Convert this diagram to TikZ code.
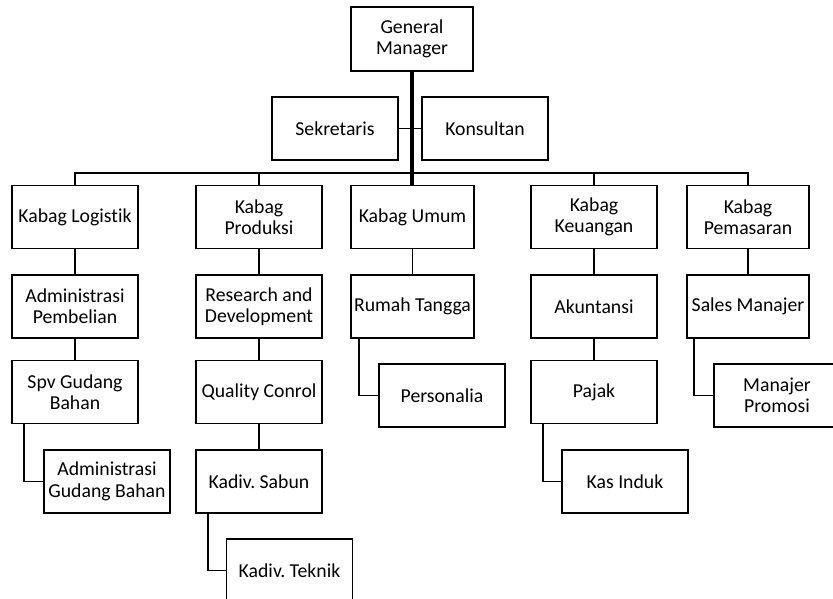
\documentclass[tikz,border=0pt]{standalone}
\usepackage{fontspec}
\setmainfont{Carlito}[RawFeature={-liga;-clig;-calt;-dlig}]
\frenchspacing
\begin{document}
\begin{tikzpicture}[x=0.75pt,y=-0.75pt,
  box/.style={draw,line width=1.2pt,minimum width=94.5pt,minimum height=47.25pt,inner sep=0pt,align=center,font=\fontsize{14.8}{16}\selectfont},
  conn/.style={line width=1.2pt},
  trunk/.style={line width=2.3pt}]
\clip (0,0) rectangle (833,599);
\fill[white] (0,0) rectangle (833,599);
% top
\node[box,minimum width=91.5pt,minimum height=48pt] (GM) at (412,39) {General\\Manager};
\node[box] (SK) at (335,128.5) {Sekretaris};
\node[box] (KS) at (485,128.5) {Konsultan};
% level 1
\node[box] (KL) at (75,217) {Kabag Logistik};
\node[box] (KP) at (259,217) {Kabag\\Produksi};
\node[box,minimum width=92.25pt] (KU) at (412.5,217) {Kabag Umum};
\node[box] (KK) at (594,217) {Kabag\\Keuangan};
\node[box,minimum width=91.5pt] (KM) at (748,217) {Kabag\\Pemasaran};
% level 2
\node[box] (AP) at (75,306.5) {Administrasi\\Pembelian};
\node[box] (RD) at (259,306.5) {Research and\\Development};
\node[box,minimum width=92.25pt] (RT) at (412.5,306.5) {Rumah Tangga};
\node[box] (AK) at (594,306.5) {Akuntansi};
\node[box,minimum width=91.5pt] (SM) at (748,306.5) {Sales Manajer};
% level 3
\node[box] (SG) at (75,392) {Spv Gudang\\Bahan};
\node[box] (QC) at (259,392) {Quality Conrol};
\node[box] (PS) at (442,395.5) {Personalia};
\node[box] (PJ) at (594,392) {Pajak};
\node[box] (MP) at (777,395.5) {Manajer\\Promosi};
% level 4
\node[box] (AG) at (107,481.5) {Administrasi\\Gudang Bahan};
\node[box] (SB) at (259,481.5) {Kadiv. Sabun};
\node[box] (KI) at (625,481.5) {Kas Induk};
% level 5
\node[box] (TK) at (289.5,570.5) {Kadiv. Teknik};
% connectors
\coordinate (bus) at (412,173);
\draw[conn] (SK.east) -- (KS.west);
\draw[conn] (KL.north) -- (KL.north |- bus) -- (KM.north |- bus) -- (KM.north);
\draw[conn] (KP.north) -- (KP.north |- bus);
\draw[conn] (KK.north) -- (KK.north |- bus);
\draw[trunk] (GM.south) -- (GM.south |- KU.north);
\draw[conn] (KL.south) -- (AP.north);
\draw[conn] (AP.south) -- (SG.north);
\draw[conn] (KP.south) -- (RD.north);
\draw[conn] (RD.south) -- (QC.north);
\draw[conn] (QC.south) -- (SB.north);
\draw[conn] (KU.south) -- (RT.north);
\draw[conn] (KK.south) -- (AK.north);
\draw[conn] (AK.south) -- (PJ.north);
\draw[conn] (KM.south) -- (SM.north);
\draw[conn] ([xshift=9.75pt]SG.south west) |- (AG.west);
\draw[conn] ([xshift=9.75pt]SB.south west) |- (TK.west);
\draw[conn] ([xshift=9.75pt]PJ.south west) |- (KI.west);
\draw[conn] ([xshift=6.75pt]RT.south west) |- (PS.west);
\draw[conn] ([xshift=6pt]SM.south west) |- (MP.west);
\end{tikzpicture}
\end{document}
